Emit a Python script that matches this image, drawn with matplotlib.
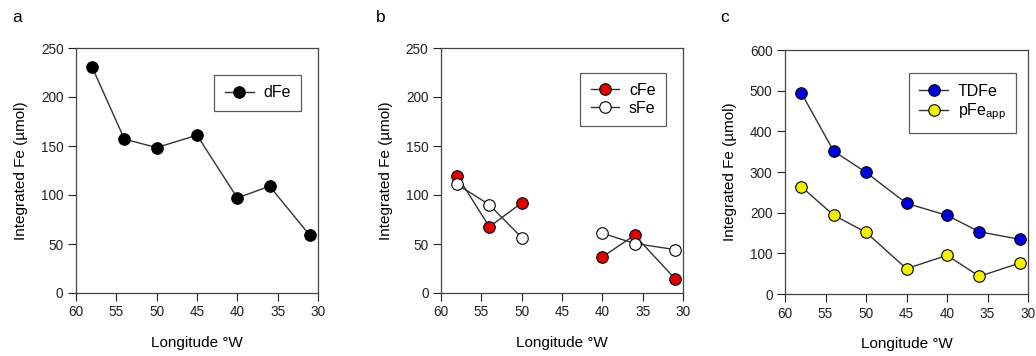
import numpy as np
import matplotlib
matplotlib.use("Agg")
import matplotlib.pyplot as plt

plt.rcParams['font.family'] = ['Liberation Sans', 'DejaVu Sans']
plt.rcParams['font.size'] = 10.5

# data
lon = [58, 54, 50, 45, 40, 36, 31]
dFe = [230.5, 157, 148.4, 161, 97, 109, 58.7]

lon_b = [58, 54, 50, np.nan, 40, 36, 31]
cFe = [119.7, 67.5, 92, np.nan, 36.8, 59, 14.7]
sFe = [110.8, 90, 56.6, np.nan, 61, 50.5, 44.3]

TDFe = [495, 351.6, 299, 223, 193.4, 153, 134.4]
pFe = [264, 194, 151.6, 62.3, 95, 43.4, 76.2]

fig = plt.figure(figsize=(10.36, 3.56), dpi=100)
W, H = 1036, 356

def mkax(x0, x1, y0, y1):
    return fig.add_axes([x0 / W, 1 - y1 / H, (x1 - x0) / W, (y1 - y0) / H])

ax1 = mkax(76, 318, 48, 293)
ax2 = mkax(441, 683, 48, 293)
ax3 = mkax(785, 1028, 50, 294)

lc = '#333333'
kw = dict(color=lc, lw=1.0, marker='o', markersize=8.3, markeredgecolor='black', markeredgewidth=0.8)

ax1.plot(lon, dFe, markerfacecolor='black', label='dFe', **kw)
ax2.plot(lon_b, cFe, markerfacecolor='#e00000', label='cFe', **kw)
ax2.plot(lon_b, sFe, markerfacecolor='white', label='sFe', **kw)
ax3.plot(lon, TDFe, markerfacecolor='#0000dd', label='TDFe', **kw)
ax3.plot(lon, pFe, markerfacecolor='#f5f000', label=r'pFe$_{\mathregular{app}}$', **kw)

for ax in (ax1, ax2, ax3):
    ax.set_xlim(60, 30)
    ax.set_xticks([60, 55, 50, 45, 40, 35, 30])
    ax.set_xlabel('Longitude °W', fontsize=11, labelpad=12)
    ax.set_ylabel('Integrated Fe (µmol)', fontsize=11, labelpad=9)
    ax.tick_params(direction='out', length=6, width=0.8, pad=3, colors='#222222', labelsize=9.8)
    for s in ax.spines.values():
        s.set_color('#444444')
        s.set_linewidth(0.9)

ax1.set_ylim(0, 250)
ax2.set_ylim(0, 250)
ax3.set_ylim(0, 600)

legkw = dict(frameon=True, fancybox=False, edgecolor='#333333', handlelength=1.8,
             borderpad=0.65, labelspacing=0.2, handletextpad=0.6, borderaxespad=0, fontsize=11.5)
l1 = ax1.legend(loc='upper right', bbox_to_anchor=(0.93, 0.89), **legkw)
l2 = ax2.legend(loc='upper right', bbox_to_anchor=(0.93, 0.90), **legkw)
l3 = ax3.legend(loc='upper right', bbox_to_anchor=(0.95, 0.905), **legkw)
for l in (l1, l2, l3):
    l.get_frame().set_linewidth(0.9)

fig.text(12 / W, 1 - 17 / H, 'a', fontsize=12.5, va='center')
fig.text(376 / W, 1 - 17 / H, 'b', fontsize=12.5, va='center')
fig.text(720 / W, 1 - 17 / H, 'c', fontsize=12.5, va='center')

fig.savefig('out.png', dpi=100)
